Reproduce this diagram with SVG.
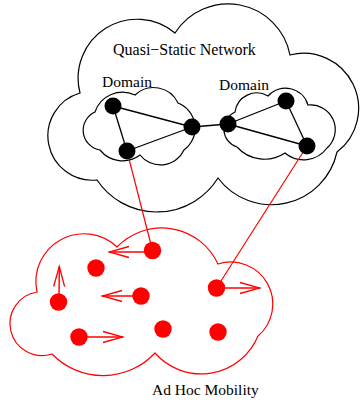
<svg xmlns="http://www.w3.org/2000/svg" width="360" height="403" viewBox="0 0 360 403">
<style>
.cloudK{fill:none;stroke:#000;stroke-width:1.2}
.cloudR{fill:none;stroke:#f00;stroke-width:1.2}
.edgeK{stroke:#000;stroke-width:1.3;fill:none}
.edgeR{stroke:#f00;stroke-width:1.2;fill:none}
.arrow{stroke:#f00;stroke-width:1.4;fill:none;marker-end:url(#v)}
.nK{fill:#000}
.nR{fill:#f00}
text{font-family:"Liberation Serif","Times New Roman",serif;font-size:15.5px;fill:#000}
</style>
<defs>
<marker id="v" markerUnits="userSpaceOnUse" markerWidth="24" markerHeight="14" viewBox="-22 -7 24 14" refX="0" refY="0" orient="auto">
<path d="M-20,-5.5 L0,0 L-20,5.5" fill="none" stroke="#f00" stroke-width="1.3"/>
</marker>
</defs>
<g id="quasi-static-network">
<path class="cloudK" d="M80,93 A59,59 0 0 1 175,33 A63,63 0 0 1 290,55 A55,55 0 0 1 337,152 A67,67 0 0 1 218,178 A72,72 0 0 1 97,180 A44.5,44.5 0 0 1 80,93 Z"/>
<text x="113" y="55" style="font-size:16px">Quasi−Static Network</text>
</g>
<g id="domain-left">
<path class="cloudK" d="M95,112 A29,29 0 0 1 135,95 A27,27 0 0 1 178,103 A27,27 0 0 1 184,150 A26,26 0 0 1 140,155 A29,29 0 0 1 100,150 A20,20 0 0 1 95,112 Z"/>
<text x="102" y="87">Domain</text>
</g>
<g id="domain-right">
<path class="cloudK" d="M235,112 A22,22 0 0 1 268,96 A23.5,23.5 0 0 1 308,105 A24.7,24.7 0 0 1 327,148 A29,29 0 0 1 285,153 A37,37 0 0 1 237,147 A18.75,18.75 0 0 1 235,112 Z"/>
<text x="219" y="90">Domain</text>
</g>
<g id="ad-hoc-mobility">
<path class="cloudR" d="M37,292 A48,48 0 0 1 117,247 A62,62 0 0 1 218,264 A42,42 0 0 1 258,336 A61.5,61.5 0 0 1 155,353 A71,71 0 0 1 52,354 A32,32 0 1 1 37,292 Z"/>
<text x="152" y="395">Ad Hoc Mobility</text>
</g>
<g id="connectors">
<line class="edgeK" x1="113" y1="106" x2="127" y2="151"/>
<line class="edgeK" x1="113" y1="106" x2="192" y2="127"/>
<line class="edgeK" x1="127" y1="151" x2="192" y2="127"/>
<line class="edgeK" x1="192" y1="127" x2="228" y2="124"/>
<line class="edgeK" x1="228" y1="124" x2="286" y2="101"/>
<line class="edgeK" x1="228" y1="124" x2="307" y2="146"/>
<line class="edgeK" x1="286" y1="101" x2="307" y2="146"/>
<line class="edgeR" x1="127" y1="151" x2="152.5" y2="250.5"/>
<line class="edgeR" x1="307" y1="146" x2="216.5" y2="288"/>
<line class="arrow" x1="150" y1="252" x2="109" y2="252"/>
<line class="arrow" x1="141" y1="296" x2="102" y2="296"/>
<line class="arrow" x1="59" y1="300" x2="59.3" y2="266.5"/>
<line class="arrow" x1="216.5" y1="288" x2="260" y2="288"/>
<line class="arrow" x1="79" y1="337" x2="123" y2="337"/>
</g>
<g id="node-k1"><circle class="nK" cx="113" cy="106" r="8.5"/></g>
<g id="node-k2"><circle class="nK" cx="127" cy="151" r="8.5"/></g>
<g id="node-k3"><circle class="nK" cx="192" cy="127" r="8.5"/></g>
<g id="node-k4"><circle class="nK" cx="228" cy="124" r="8.5"/></g>
<g id="node-k5"><circle class="nK" cx="286" cy="101" r="8.5"/></g>
<g id="node-k6"><circle class="nK" cx="307" cy="146" r="8.5"/></g>
<g id="node-r1"><circle class="nR" cx="152.5" cy="250.5" r="8.7"/></g>
<g id="node-r2"><circle class="nR" cx="96" cy="268" r="8.7"/></g>
<g id="node-r3"><circle class="nR" cx="141" cy="296" r="8.7"/></g>
<g id="node-r4"><circle class="nR" cx="58.5" cy="302" r="8.7"/></g>
<g id="node-r5"><circle class="nR" cx="216.5" cy="288" r="8.7"/></g>
<g id="node-r6"><circle class="nR" cx="79" cy="337" r="8.7"/></g>
<g id="node-r7"><circle class="nR" cx="163" cy="329" r="8.7"/></g>
<g id="node-r8"><circle class="nR" cx="218" cy="332" r="8.7"/></g>
</svg>
